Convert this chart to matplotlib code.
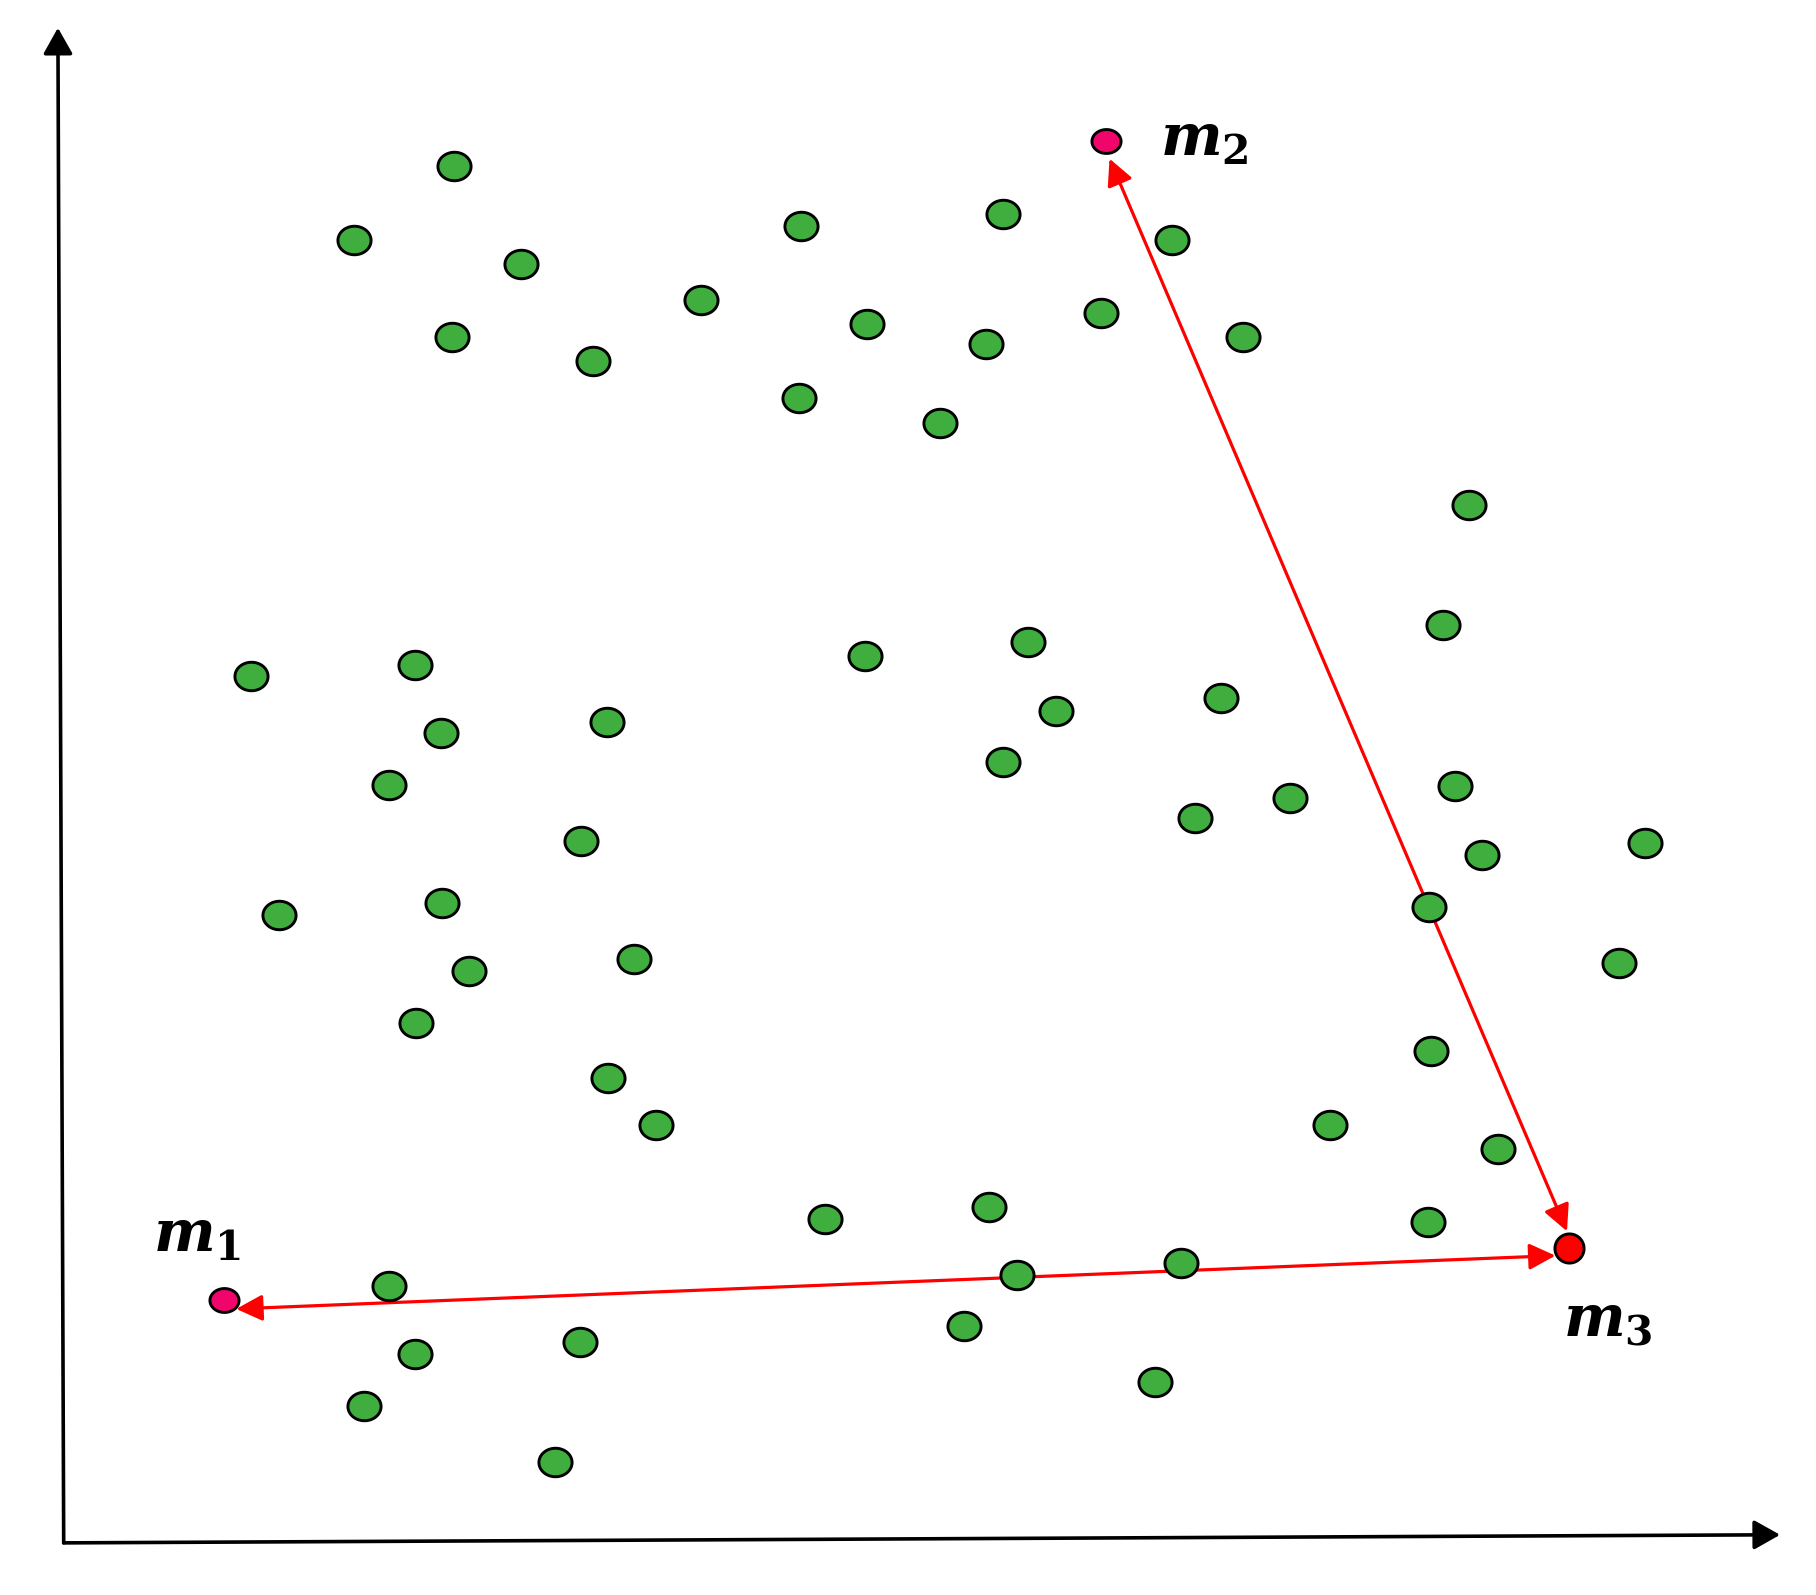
import matplotlib
matplotlib.use("Agg")
import matplotlib.pyplot as plt
import numpy as np
from matplotlib.path import Path
from matplotlib.patches import FancyArrowPatch

plt.rcParams['mathtext.fontset'] = 'custom'
plt.rcParams['mathtext.it'] = 'DejaVu Serif:italic:bold'
plt.rcParams['mathtext.rm'] = 'DejaVu Serif:bold'

# data points (image units, y grows downward)
green_x = [392, 306, 450, 390, 512, 605, 692, 749, 690, 812, 866, 851, 951, 1012, 1073,
           1268, 1246, 217, 358, 381, 336, 524, 502, 747, 888, 912, 866, 1054, 1114, 1032,
           1256, 1280, 1420, 1234, 1398, 241, 382, 405, 359, 547, 525, 566, 1236, 1148, 1293,
           712, 854, 1233, 1020, 878, 336, 358, 501, 314, 832, 997, 479]
green_y = [143, 207, 228, 291, 312, 259, 195, 280, 344, 365, 185, 297, 270, 207, 291,
           436, 540, 584, 574, 633, 678, 623, 726, 566, 554, 614, 658, 603, 689, 706,
           679, 738, 728, 783, 831, 790, 780, 838, 883, 828, 931, 971, 907, 971, 992,
           1052, 1042, 1055, 1090, 1101, 1110, 1169, 1159, 1214, 1145, 1193, 1262]

centroid_names = ['m_1', 'm_2', 'm_3']
centroid_x = [193, 955, 1355]
centroid_y = [1122, 122, 1077]
centroid_colors = ['#f0056a', '#f0056a', '#ff0000']
label_x = [170, 1040, 1388]
label_y = [1066, 120, 1140]

# distance arrows: (x0, y0) -> (x1, y1)
arrows = [((958, 137), (1353, 1063)),
          ((204, 1130), (1343, 1084))]

W, H = 1568, 1377

fig = plt.figure(figsize=(18.16, 15.95), dpi=100)
ax = fig.add_axes([0, 0, 1, 1])
ax.set_xlim(0, W)
ax.set_ylim(H, 0)
ax.axis('off')

def ellipse_marker(ratio):
    t = np.linspace(0, 2 * np.pi, 60)
    verts = np.column_stack([np.cos(t), ratio * np.sin(t)])
    return Path(verts, closed=True)

ax.scatter(green_x, green_y, s=570, marker=ellipse_marker(0.86),
           facecolor='#3fae3f', edgecolor='black', linewidths=2.1, zorder=3)

for i in range(3):
    ratio = 1.0 if i == 2 else 0.82
    ax.scatter([centroid_x[i]], [centroid_y[i]], s=440, marker=ellipse_marker(ratio),
               facecolor=centroid_colors[i], edgecolor='black', linewidths=2.1, zorder=4)
    ax.text(label_x[i], label_y[i], '$' + centroid_names[i] + '$', fontsize=42,
            ha='center', va='center', color='black')

for (p0, p1) in arrows:
    ax.add_patch(FancyArrowPatch(p0, p1, arrowstyle='<|-|>,head_length=0.8,head_width=0.4',
                                 mutation_scale=20, color='red', lw=2.3,
                                 shrinkA=0, shrinkB=0, zorder=2))

# axes
ax.add_patch(FancyArrowPatch((55, 1332), (50, 24), arrowstyle='-|>,head_length=0.8,head_width=0.45',
                             mutation_scale=20, color='black', lw=2.6, shrinkA=0, shrinkB=0))
ax.add_patch(FancyArrowPatch((55, 1332), (1537, 1325), arrowstyle='-|>,head_length=0.8,head_width=0.45',
                             mutation_scale=20, color='black', lw=2.6, shrinkA=0, shrinkB=0))

fig.savefig('out.png', dpi=100)
